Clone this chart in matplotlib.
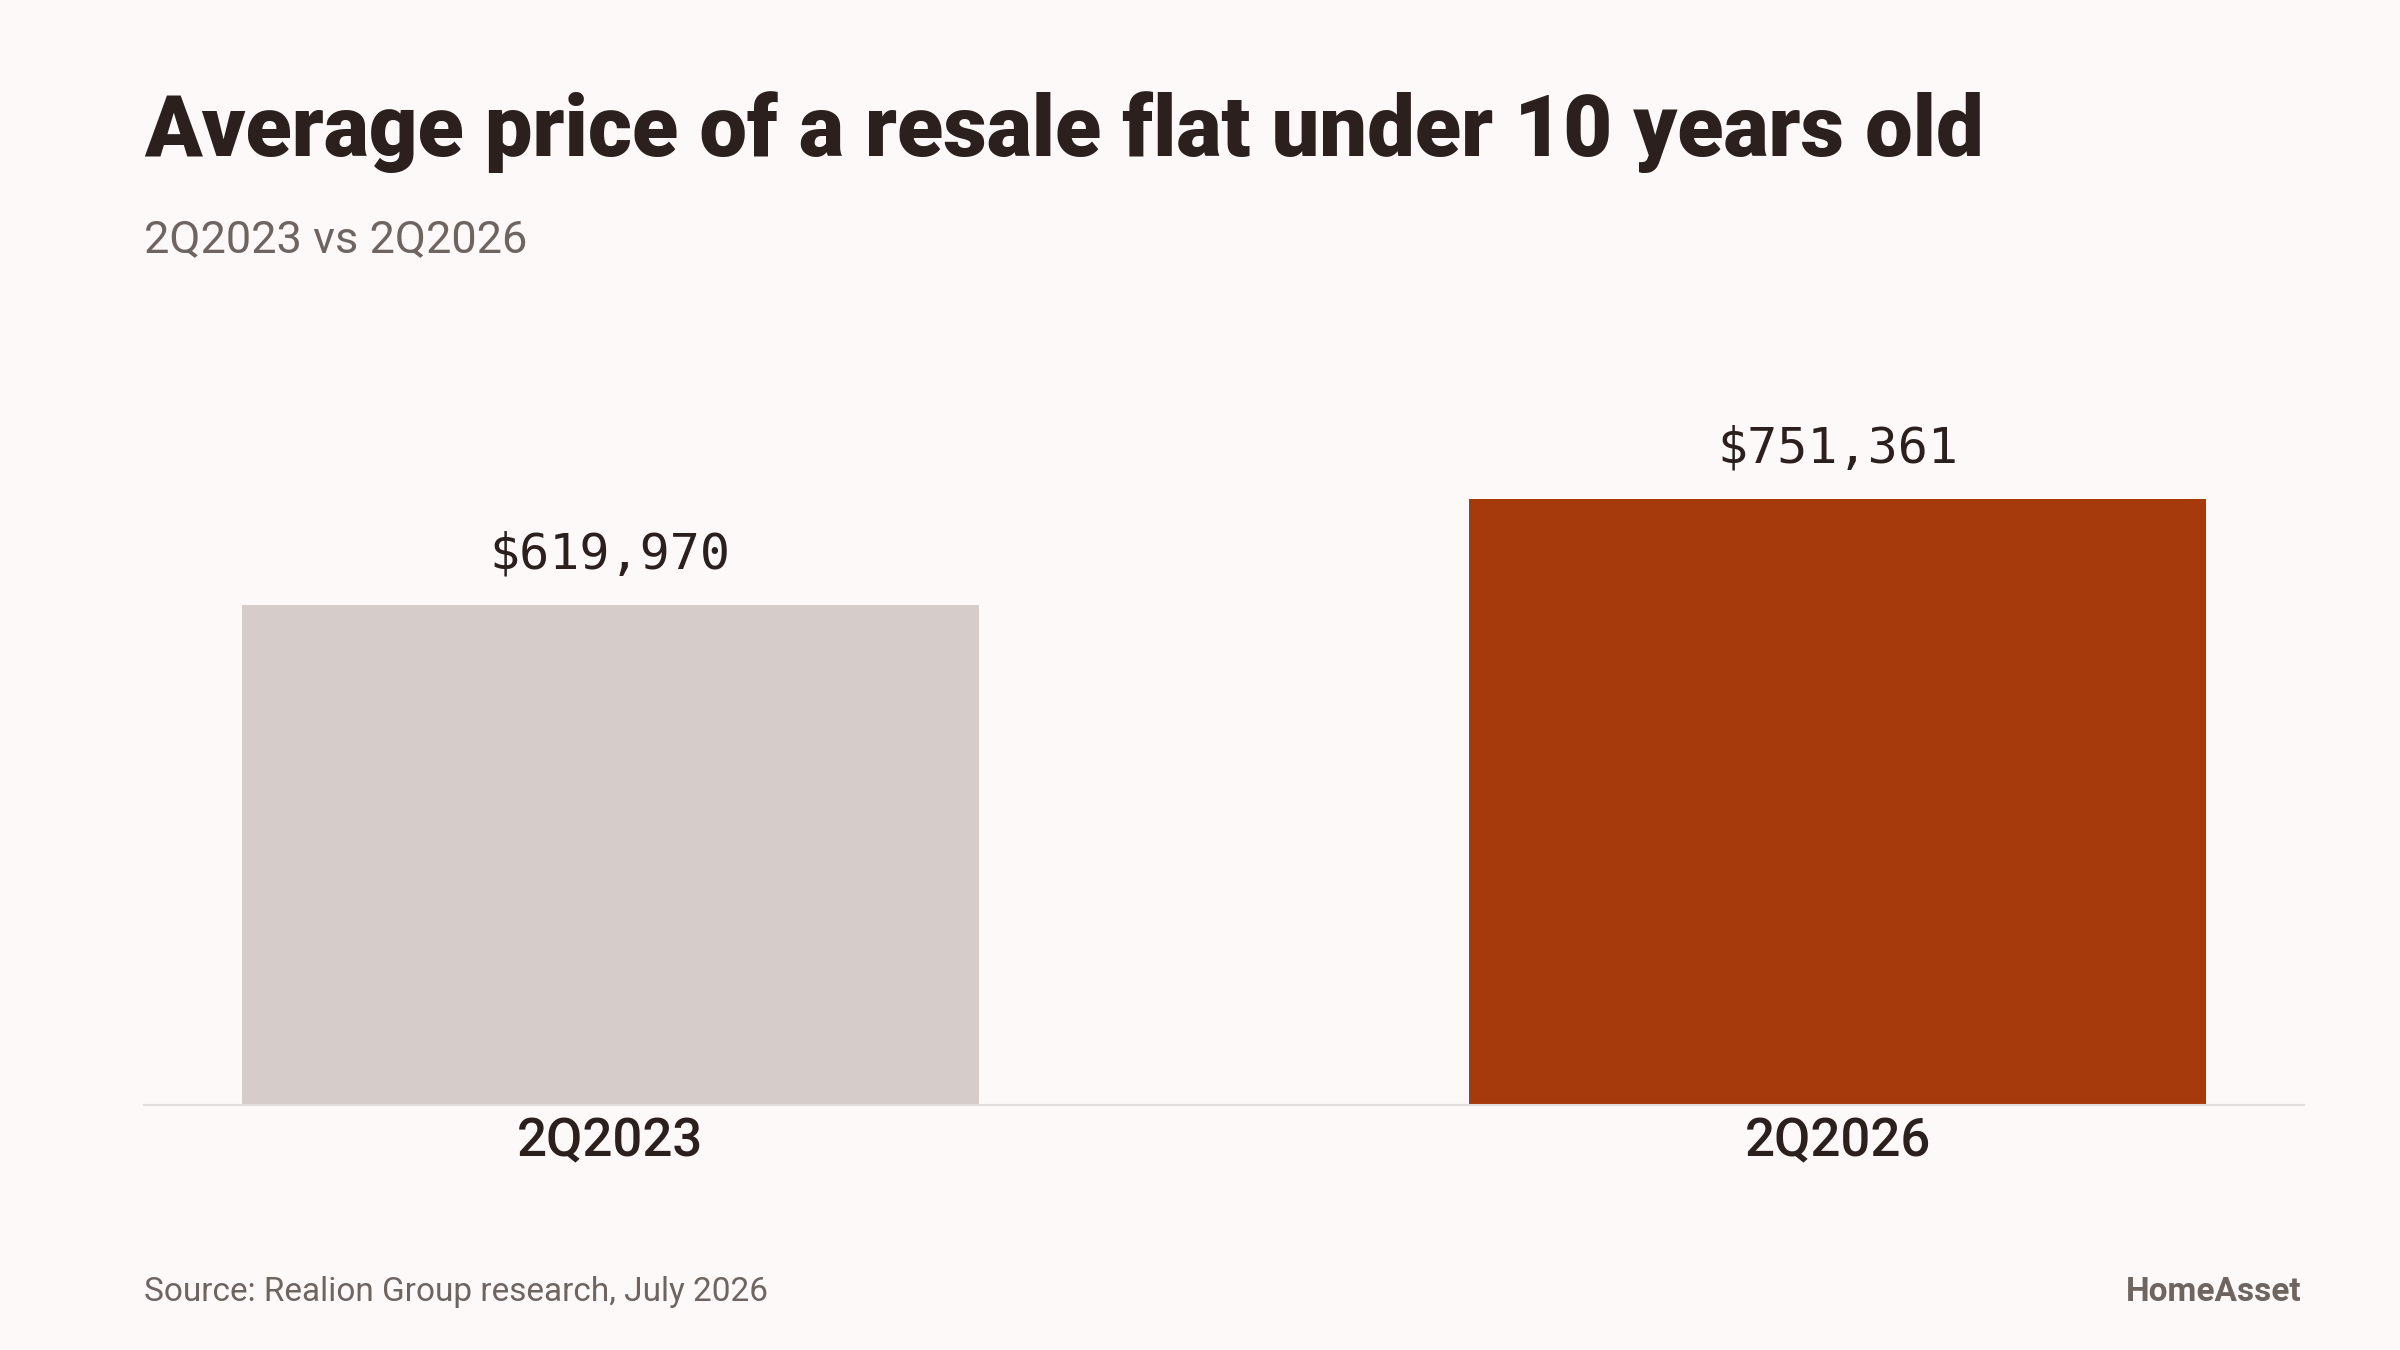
import matplotlib.pyplot as plt

# datos
periods = ['2Q2023', '2Q2026']
prices = [619970, 751361]
bar_colors = ['#d6ccc9', '#a63a0c']

bg = '#fdf9f8'
dark = '#2b201d'
grey = '#6e6561'

fig = plt.figure(figsize=(24, 13.5), dpi=100, facecolor=bg)
ax = fig.add_axes([144 / 2400, 1 - 1105 / 1350, 2160 / 2400, 775 / 1350])
ax.set_facecolor(bg)

x = list(range(len(periods)))
bars = ax.bar(x, prices, width=0.6, color=bar_colors, zorder=2)

ax.set_xlim(-0.38, 1.38)
ax.set_ylim(0, prices[1] * 775 / 606)

for b, v in zip(bars, prices):
    ax.text(b.get_x() + b.get_width() / 2, v + prices[1] * 0.083, f'${v:,}',
            ha='center', va='center', fontsize=36, family='DejaVu Sans Mono',
            color=dark)

ax.set_xticks(x)
ax.set_xticklabels(periods, fontsize=38, family='Roboto', fontweight='medium', color=dark)
ax.tick_params(axis='x', length=0, pad=8)
ax.set_yticks([])
for s in ['top', 'right', 'left']:
    ax.spines[s].set_visible(False)
ax.spines['bottom'].set_color('#e2dcda')
ax.spines['bottom'].set_linewidth(1.5)

# textos
fig.text(144 / 2400, 1 - 156 / 1350, 'Average price of a resale flat under 10 years old',
         fontsize=61, fontweight='black', family='Roboto', color=dark, va='baseline')
fig.text(144 / 2400, 1 - 240 / 1350, '2Q2023 vs 2Q2026', fontsize=32.5,
         family='Roboto', color=grey, va='center')
fig.text(144 / 2400, 1 - 1292 / 1350, 'Source: Realion Group research, July 2026',
         fontsize=24, family='Roboto', color=grey, va='center')
fig.text(2302 / 2400, 1 - 1292 / 1350, 'HomeAsset', fontsize=24, fontweight='bold',
         family='Roboto', color=grey, va='center', ha='right')

fig.savefig('out.png', dpi=100, facecolor=bg)
